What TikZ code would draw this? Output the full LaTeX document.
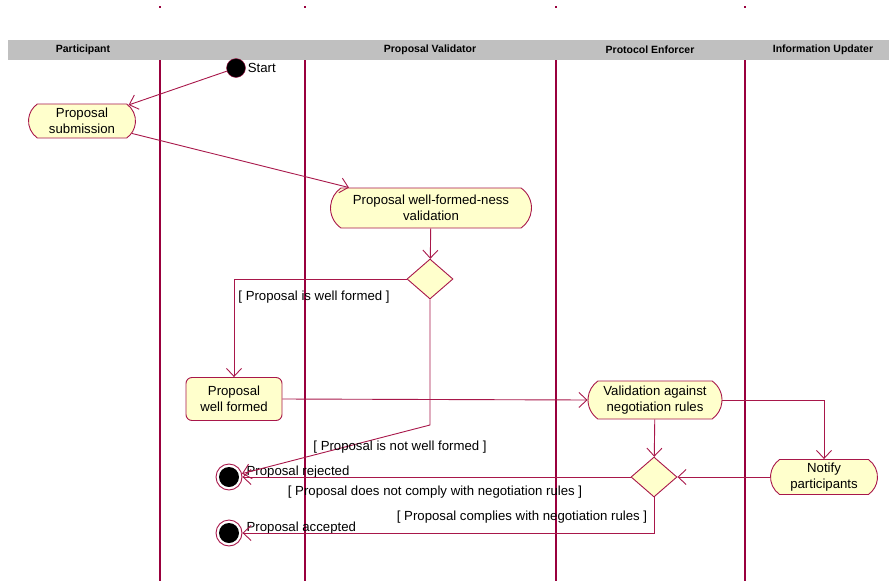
\documentclass[tikz,border=0pt]{standalone}
\usepackage{fontspec}
\setmainfont{Liberation Sans}
\usetikzlibrary{arrows.meta,shapes.geometric,shapes.misc,calc}
\definecolor{lanecol}{HTML}{99003D}
\definecolor{edgecol}{HTML}{A8174A}
\definecolor{actfill}{HTML}{FFFFCC}
\definecolor{headgray}{HTML}{C0C0C0}

\begin{document}
\begin{tikzpicture}[x=1pt,y=-1pt,
    font=\fontsize{13.2}{16}\selectfont,
    activity/.style={rounded rectangle,rounded rectangle arc length=110,
      draw=edgecol,line width=0.9pt,fill=actfill,align=center,inner sep=1pt},
    state/.style={rectangle,rounded corners=6pt,draw=edgecol,line width=0.9pt,fill=actfill,align=center},
    decision/.style={diamond,draw=edgecol,line width=0.9pt,fill=actfill,minimum width=46pt,
      minimum height=40pt,aspect=1.15,inner sep=0pt},
    final/.style={circle,draw=edgecol,line width=0.9pt,fill=white,minimum size=26pt,inner sep=0pt,
      path picture={\fill[black] (path picture bounding box.center) circle (10);}},
    flow/.style={draw=edgecol,line width=0.9pt,-{Straight Barb[length=8pt,width=15pt]}},
    lane/.style={draw=lanecol,line width=2pt},
    guard/.style={inner sep=0pt}]
  \useasboundingbox (0,0) rectangle (889,581);
  % swimlane heading
  \fill[headgray] (8,40) rectangle (889,60);
  \foreach \lx/\lt in {83/Participant,430/Proposal Validator,650/Protocol Enforcer,823/Information Updater}
    \node[font=\fontsize{10.5}{12}\selectfont\bfseries] at (\lx,50) {\lt};
  \foreach \lx in {160,305,556,745} {
    \draw[lane] (\lx,60) -- (\lx,581);
    \draw[lanecol,line width=2pt] (\lx,6) -- (\lx,8);
  }

  % activities
  \node[circle,fill=black,draw=edgecol,minimum size=19pt,inner sep=0pt,
        label={[inner sep=2pt]right:Start}] (start) at (236,68) {};
  \node[activity,minimum width=109pt,minimum height=34pt] (submission) at (82,121) {Proposal\\submission};
  \node[activity,minimum width=203pt,minimum height=40pt] (wellness) at (431,208) {Proposal well-formed-ness\\validation};
  \node[decision] (check) at (430,279) {};
  \node[state,minimum width=96pt,minimum height=43pt] (wellformed) at (234,399) {Proposal\\well formed};
  \node[activity,minimum width=136pt,minimum height=38pt] (negotiation) at (655,400) {Validation against\\negotiation rules};
  \node[decision] (comply) at (654,477) {};
  \node[activity,minimum width=109pt,minimum height=35pt] (notify) at (824,477) {Notify\\participants};
  \node[final,label={[yshift=5pt,inner sep=4pt]right:Proposal rejected}] (rejected) at (229,477) {};
  \node[final,label={[yshift=5pt,inner sep=4pt]right:Proposal accepted}] (accepted) at (229,533) {};
  \coordinate (notwell) at (430,425);

  % transitions
  \draw[flow] (start) -- (submission);
  \draw[flow] (submission) -- (wellness);
  \draw[flow] (wellness) -- (check);
  \draw[flow] (check.west) -| node[pos=.5,below right,inner sep=4pt,yshift=-7pt] {[ Proposal is well formed ]} (wellformed.north);
  \draw[flow] (wellformed.east) -- (negotiation.west);
  \draw[flow] (check.south) -- (notwell) -- (rejected);
  \node[guard] (notwelltxt) at (400,447) {[ Proposal is not well formed ]};
  \draw[flow] (negotiation) -- (comply);
  \draw[flow] (negotiation.east) -| (notify.north);
  \draw[flow] (notify.west) -- (comply.east);
  \draw[flow] (comply.west) -- (rejected);
  \node[guard] (notcomplytxt) at (435,492) {[ Proposal does not comply with negotiation rules ]};
  \draw[flow] (comply.south) |- (accepted);
  \node[guard] (complytxt) at (522,517) {[ Proposal complies with negotiation rules ]};
\end{tikzpicture}
\end{document}
